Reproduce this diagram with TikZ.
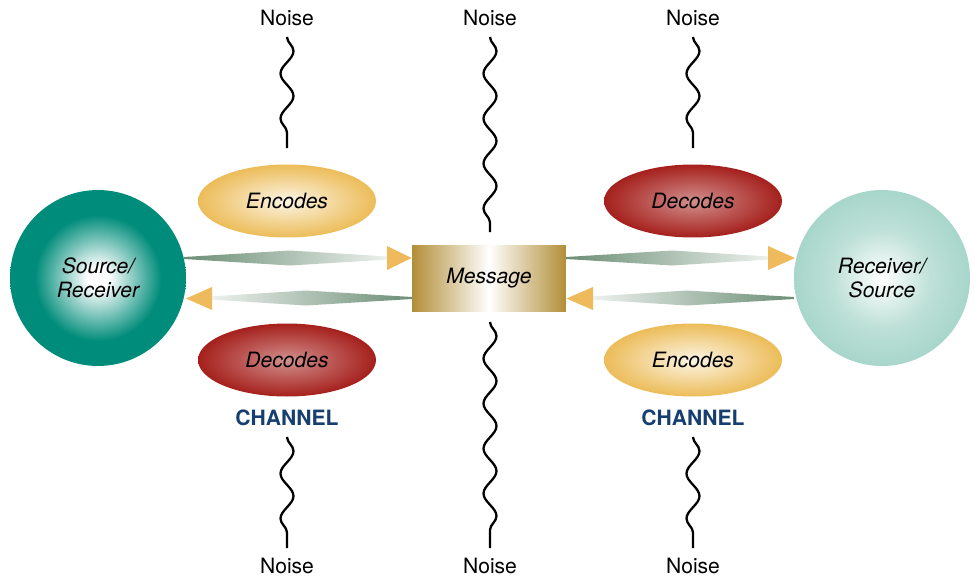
\documentclass[tikz,border=0pt]{standalone}
\usepackage{fontspec}
\setmainfont{TeX Gyre Heros}
\usetikzlibrary{decorations.pathmorphing,shapes.geometric}

\definecolor{srcteal}{RGB}{0,140,122}
\definecolor{rcvteal}{RGB}{168,214,202}
\definecolor{encgold}{RGB}{236,188,88}
\definecolor{decred}{RGB}{165,32,28}
\definecolor{msggold}{RGB}{178,142,55}
\definecolor{bandgreen}{RGB}{108,142,118}
\definecolor{tipgold}{RGB}{238,186,92}
\definecolor{chanblue}{RGB}{22,62,112}

\pgfdeclareradialshading{srcshade}{\pgfpoint{0bp}{0bp}}{color(0bp)=(white); color(3bp)=(white); color(18bp)=(srcteal); color(25bp)=(srcteal); color(50bp)=(srcteal)}
\pgfdeclareradialshading{rcvshade}{\pgfpoint{0bp}{0bp}}{color(0bp)=(white); color(14bp)=(rcvteal!75); color(25bp)=(rcvteal); color(50bp)=(rcvteal)}
\pgfdeclareradialshading{encshade}{\pgfpoint{0bp}{0bp}}{color(0bp)=(encgold!15); color(25bp)=(encgold); color(50bp)=(encgold)}
\pgfdeclareradialshading{decshade}{\pgfpoint{0bp}{0bp}}{color(0bp)=(decred!50); color(25bp)=(decred); color(50bp)=(decred)}

\tikzset{
    txt/.style={font=\fontsize{12}{13.6}\selectfont\itshape, align=center},
    party/.style={circle, minimum size=3.52cm, inner sep=0pt, txt},
    coder/.style={ellipse, minimum width=3.56cm, minimum height=1.46cm, inner sep=0pt, txt},
    noise/.style={font=\fontsize{12}{14}\selectfont, inner sep=0pt},
    chan/.style={font=\fontsize{12}{14}\selectfont\bfseries, text=chanblue},
    wave/.style={line width=1.3pt, decorate, decoration={snake, amplitude=0.13cm, segment length=0.9cm}},
    tip/.style={fill=tipgold},
}

\begin{document}
\begin{tikzpicture}[x=0.02cm,y=-0.02cm]
    \useasboundingbox (0,0) rectangle (975,579);

    % parties and message
    \node[party, shading=srcshade] (src) at (98,278) {Source/\\Receiver};
    \node[party, shading=rcvshade] (rcv) at (882,278) {Receiver/\\Source};
    \node[minimum width=3.08cm, minimum height=1.32cm, inner sep=0pt, txt,
          left color=msggold, right color=msggold, middle color=white] (msg) at (489,278) {Message};

    % coders
    \node[coder, shading=encshade] (enc1) at (287,201) {Encodes};
    \node[coder, shading=decshade] (dec1) at (287,360) {Decodes};
    \node[coder, shading=decshade] (dec2) at (693,201) {Decodes};
    \node[coder, shading=encshade] (enc2) at (693,360) {Encodes};

    \node[chan] (ch1) at (287,418) {CHANNEL};
    \node[chan] (ch2) at (693,418) {CHANNEL};

    % noise
    \node[noise] (n1) at (287,18) {Noise};
    \node[noise] (n2) at (490,18) {Noise};
    \node[noise] (n3) at (693,18) {Noise};
    \node[noise] (n4) at (287,566) {Noise};
    \node[noise] (n5) at (490,566) {Noise};
    \node[noise] (n6) at (693,566) {Noise};

    \coordinate (w1) at (287,148);
    \coordinate (w2) at (490,232);
    \coordinate (w3) at (693,148);
    \coordinate (w4) at (287,437);
    \coordinate (w5) at (490,322);
    \coordinate (w6) at (693,437);
    \draw[wave] (287,37) -- (w1);
    \draw[wave] (490,37) -- (w2);
    \draw[wave] (693,37) -- (w3);
    \draw[wave] (w4) -- (287,548);
    \draw[wave] (w5) -- (490,548);
    \draw[wave] (w6) -- (693,548);

    % bands
    \shade[left color=bandgreen, right color=bandgreen!12]
        (184,257) -- (290,250.5) -- (389,256.5) -- (389,259.5) -- (290,265.5) -- (184,259) -- cycle;
    \shade[left color=bandgreen!12, right color=bandgreen]
        (210,296.5) -- (306,290.5) -- (412,297) -- (412,299) -- (306,305.5) -- (210,299.5) -- cycle;
    \shade[left color=bandgreen, right color=bandgreen!12]
        (566,257) -- (672,250.5) -- (770,256.5) -- (770,259.5) -- (672,265.5) -- (566,259) -- cycle;
    \shade[left color=bandgreen!12, right color=bandgreen]
        (591,296.5) -- (687,290.5) -- (794,297) -- (794,299) -- (687,305.5) -- (591,299.5) -- cycle;

    % arrow heads
    \fill[tip] (387,246) -- (msg.west |- 0,258) -- (387,270) -- cycle;
    \fill[tip] (212,287) -- (186,298.5) -- (212,310) -- cycle;
    \fill[tip] (768,246) -- (795,258) -- (768,270) -- cycle;
    \fill[tip] (593,287) -- (msg.east |- 0,298.5) -- (593,310) -- cycle;
\end{tikzpicture}
\end{document}
